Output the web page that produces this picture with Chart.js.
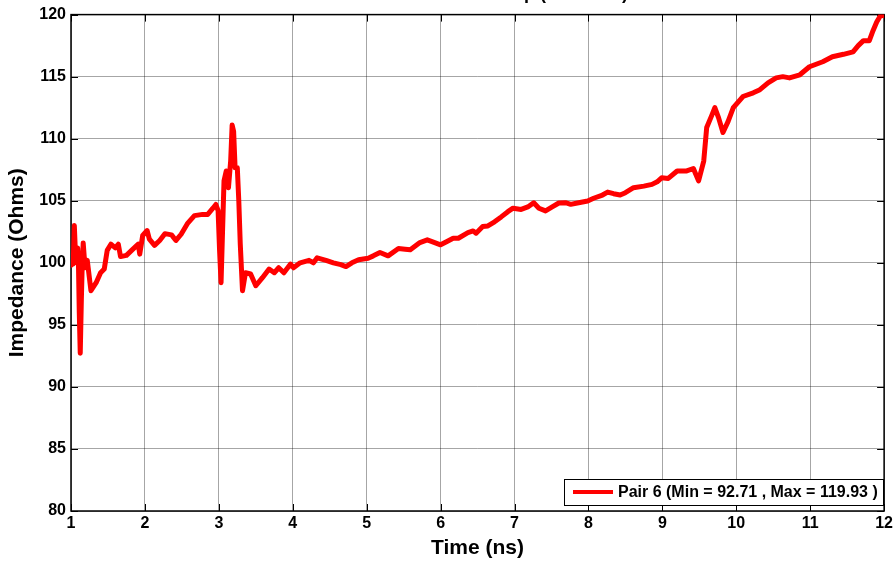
<!DOCTYPE html>
<html><head><meta charset="utf-8">
<script src="https://cdn.jsdelivr.net/npm/chart.js@4/dist/chart.umd.min.js"></script>
<style>html,body{margin:0;padding:0;background:#fff;}#wrap{width:896px;height:561px;position:relative;}</style>
</head><body><div id="wrap"><canvas id="c" width="896" height="561"></canvas></div>
<script>
const chartTitle = "TDR Differential Setup (100 Ohm)";
const seriesLabel = "Pair 6 (Min = 92.71 , Max = 119.93 )";
const xTitle = "Time (ns)";
const yTitle = "Impedance (Ohms)";
const timeNs = [1.00,1.015,1.03,1.045,1.06,1.075,1.09,1.10,1.112,1.125,1.14,1.15,1.165,1.19,1.22,1.27,1.34,1.40,1.45,1.49,1.54,1.60,1.64,1.67,1.75,1.82,1.91,1.93,1.97,2.03,2.06,2.13,2.20,2.27,2.36,2.42,2.49,2.58,2.67,2.78,2.85,2.92,2.96,2.99,3.01,3.03,3.05,3.07,3.10,3.13,3.16,3.18,3.20,3.22,3.25,3.27,3.29,3.32,3.36,3.43,3.50,3.59,3.68,3.75,3.81,3.88,3.97,4.01,4.10,4.22,4.28,4.33,4.45,4.55,4.65,4.72,4.80,4.89,5.02,5.09,5.18,5.29,5.43,5.52,5.59,5.72,5.82,5.92,6.00,6.08,6.17,6.24,6.37,6.44,6.48,6.57,6.64,6.73,6.82,6.91,6.98,7.09,7.18,7.26,7.33,7.42,7.51,7.60,7.69,7.76,7.85,7.99,8.07,8.19,8.26,8.34,8.43,8.50,8.61,8.75,8.86,8.93,8.99,9.08,9.20,9.33,9.42,9.49,9.56,9.60,9.67,9.71,9.76,9.82,9.89,9.96,10.09,10.23,10.32,10.43,10.54,10.63,10.72,10.86,10.99,11.17,11.30,11.45,11.58,11.65,11.72,11.80,11.85,11.90,11.95,12.00];
const impedance = [99.8,100.3,99.9,103.0,100.8,100.0,101.2,100.2,96.0,92.71,97.0,99.4,101.6,99.6,100.2,97.75,98.4,99.2,99.5,101.0,101.5,101.2,101.5,100.5,100.6,101.0,101.5,100.7,102.2,102.6,101.9,101.4,101.8,102.35,102.25,101.8,102.3,103.2,103.8,103.9,103.9,104.4,104.7,104.2,101.0,98.4,102.5,106.6,107.4,106.05,108.2,111.1,110.6,107.65,107.65,105.0,101.5,97.75,99.2,99.1,98.15,98.8,99.5,99.2,99.6,99.2,99.9,99.6,100.0,100.2,100.0,100.4,100.2,100.0,99.85,99.7,100.0,100.24,100.37,100.56,100.83,100.56,101.15,101.1,101.05,101.63,101.85,101.63,101.45,101.7,101.98,101.98,102.43,102.57,102.38,102.92,102.97,103.3,103.7,104.12,104.4,104.3,104.5,104.84,104.4,104.18,104.5,104.82,104.84,104.71,104.82,104.98,105.2,105.46,105.7,105.57,105.46,105.65,106.05,106.18,106.32,106.53,106.85,106.8,107.4,107.4,107.6,106.6,108.2,110.9,111.9,112.5,111.7,110.5,111.4,112.5,113.4,113.7,113.95,114.5,114.9,115.0,114.9,115.15,115.8,116.2,116.6,116.8,117.0,117.5,117.9,117.9,118.7,119.4,119.9,119.93];
const xTicks = [1,2,3,4,5,6,7,8,9,10,11,12];
const yTicks = [80,85,90,95,100,105,110,115,120];

const FONT = "'Liberation Sans', Arial, sans-serif";

const boxPlugin = {
  id: 'boxPlugin',
  beforeDatasetsDraw(chart) {
    const {ctx, chartArea: a, scales} = chart;
    ctx.save();
    ctx.strokeStyle = '#000';
    ctx.lineWidth = 1;
    const L = 7;
    xTicks.forEach(v => {
      const px = Math.round(scales.x.getPixelForValue(v)) + 0.5;
      ctx.beginPath();
      ctx.moveTo(px, a.bottom); ctx.lineTo(px, a.bottom - L);
      ctx.moveTo(px, a.top); ctx.lineTo(px, a.top + L);
      ctx.stroke();
    });
    yTicks.forEach(v => {
      const py = Math.round(scales.y.getPixelForValue(v)) + 0.5;
      ctx.beginPath();
      ctx.moveTo(a.left, py); ctx.lineTo(a.left + L, py);
      ctx.moveTo(a.right, py); ctx.lineTo(a.right - L, py);
      ctx.stroke();
    });
    ctx.lineWidth = 1.5;
    ctx.strokeRect(a.left, a.top, a.right - a.left, a.bottom - a.top);
    ctx.restore();
  },
  afterDraw(chart) {
    const {ctx} = chart;
    ctx.save();
    // title (mostly above the visible area, as in the reference)
    ctx.font = "bold 18px " + FONT;
    ctx.fillStyle = '#000';
    ctx.textAlign = 'right';
    ctx.textBaseline = 'alphabetic';
    ctx.fillText(chartTitle, 628, -1);
    // legend
    const ds = chart.data.datasets[0];
    const bx = 564, by = 479, bw = 319, bh = 26;
    ctx.fillStyle = '#fff';
    ctx.fillRect(bx, by, bw, bh);
    ctx.strokeStyle = '#000';
    ctx.lineWidth = 1;
    ctx.strokeRect(bx + 0.5, by + 0.5, bw, bh);
    ctx.strokeStyle = ds.borderColor;
    ctx.lineWidth = 4;
    ctx.beginPath();
    ctx.moveTo(573, by + 13); ctx.lineTo(613, by + 13);
    ctx.stroke();
    ctx.fillStyle = '#000';
    ctx.font = "bold 16px " + FONT;
    ctx.textAlign = 'left';
    ctx.textBaseline = 'middle';
    ctx.fillText(ds.label, 618, by + 14);
    ctx.restore();
  }
};

new Chart(document.getElementById('c'), {
  type: 'line',
  data: {
    datasets: [{
      label: seriesLabel,
      data: timeNs.map((t, i) => ({x: t, y: impedance[i]})),
      borderColor: '#ff0000',
      borderWidth: 5,
      borderJoinStyle: 'round',
      borderCapStyle: 'round',
      pointRadius: 0,
      tension: 0,
      fill: false
    }]
  },
  options: {
    responsive: false,
    animation: false,
    layout: {padding: {top: 13, right: 7, left: 0, bottom: 0}},
    plugins: {legend: {display: false}, tooltip: {enabled: false}, title: {display: false}},
    scales: {
      x: {
        type: 'linear', min: 1, max: 12,
        afterBuildTicks(s) { s.ticks = xTicks.map(v => ({value: v})); },
        afterFit(s) { s.height = 50; },
        grid: {color: 'rgba(0,0,0,0.35)', lineWidth: 1, drawTicks: false},
        border: {display: false},
        ticks: {color: '#000', font: {family: FONT, size: 16, weight: 'bold'}, padding: 3, maxRotation: 0},
        title: {display: true, text: xTitle, color: '#000', font: {family: FONT, size: 21, weight: 'bold'}, padding: {top: 2, bottom: 0}}
      },
      y: {
        type: 'linear', min: 80, max: 120,
        afterBuildTicks(s) { s.ticks = yTicks.map(v => ({value: v})); },
        afterFit(s) { s.width = 71; },
        grid: {color: 'rgba(0,0,0,0.35)', lineWidth: 1, drawTicks: false},
        border: {display: false},
        ticks: {color: '#000', font: {family: FONT, size: 16, weight: 'bold'}, padding: 5},
        title: {display: true, text: yTitle, color: '#000', font: {family: FONT, size: 21, weight: 'bold'}, padding: {top: 5, bottom: 0}}
      }
    }
  },
  plugins: [boxPlugin]
});
</script></body></html>
